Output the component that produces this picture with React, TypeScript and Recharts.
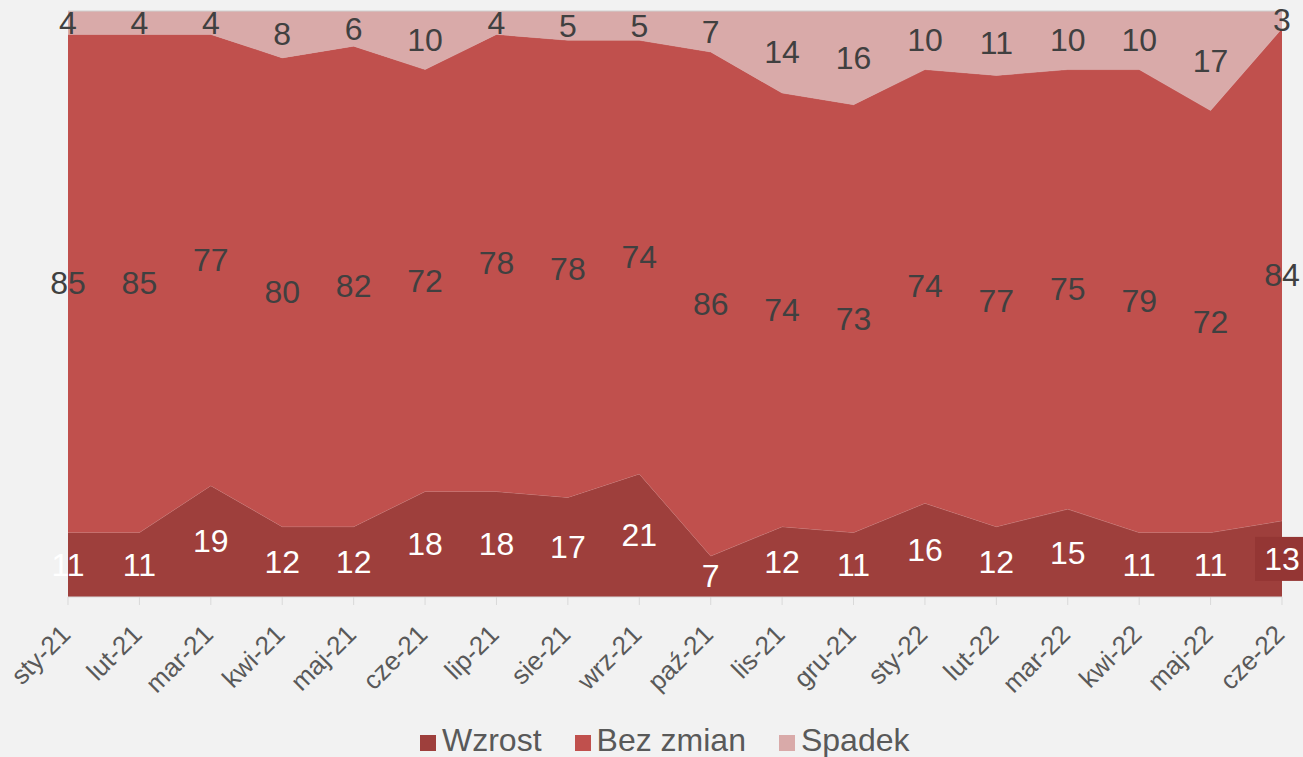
import { ComposedChart, Area, Line, XAxis, YAxis } from "recharts";

const months = [
  "sty-21", "lut-21", "mar-21", "kwi-21", "maj-21", "cze-21", "lip-21", "sie-21", "wrz-21",
  "paź-21", "lis-21", "gru-21", "sty-22", "lut-22", "mar-22", "kwi-22", "maj-22", "cze-22",
];
const wzrost = [11, 11, 19, 12, 12, 18, 18, 17, 21, 7, 12, 11, 16, 12, 15, 11, 11, 13];
const bezZmian = [85, 85, 77, 80, 82, 72, 78, 78, 74, 86, 74, 73, 74, 77, 75, 79, 72, 84];
const spadek = [4, 4, 4, 8, 6, 10, 4, 5, 5, 7, 14, 16, 10, 11, 10, 10, 17, 3];

const series = [
  { key: "wzrost", name: "Wzrost", color: "#9e3f3c" },
  { key: "bezZmian", name: "Bez zmian", color: "#c0504d" },
  { key: "spadek", name: "Spadek", color: "#d9aaa9" },
];

const data = months.map((m, i) => ({
  month: m,
  wzrost: wzrost[i],
  bezZmian: bezZmian[i],
  spadek: spadek[i],
  // middle of each band, used only to place the value labels
  midW: wzrost[i] / 2,
  midB: wzrost[i] + bezZmian[i] / 2,
  midS: wzrost[i] + bezZmian[i] + spadek[i] / 2,
}));

const FONT = '"Liberation Sans", Arial, sans-serif';

const makeLabel = (values: number[], color: string, boxLast?: string) => (props: any) => {
  const { x, y, index } = props;
  const last = boxLast && index === values.length - 1;
  return (
    <g key={`lbl-${index}`}>
      {last && <rect x={x - 27} y={y - 22} width={54} height={44} fill={boxLast} />}
      <text
        x={x}
        y={y}
        textAnchor="middle"
        dominantBaseline="central"
        fontSize={32}
        fontFamily={FONT}
        fill={color}
      >
        {values[index]}
      </text>
    </g>
  );
};

const MonthTick = ({ x, payload }: any) => (
  <g transform={`translate(${x + 4},636) rotate(-45)`}>
    <text x={0} y={0} textAnchor="end" fontSize={26} fontFamily={FONT} fill="#595959">
      {payload.value}
    </text>
  </g>
);

export default function App() {
  return (
    <div style={{ position: "absolute", left: 0, top: 0, width: 1303, height: 757, background: "#f2f2f2", overflow: "hidden" }}>
      <ComposedChart
        width={1303}
        height={757}
        data={data}
        margin={{ top: 11, right: 21, left: 68, bottom: 0 }}
      >
        <XAxis
          dataKey="month"
          scale="point"
          interval={0}
          height={160}
          axisLine={{ stroke: "#d9d9d9" }}
          tickLine={{ stroke: "#d9d9d9" }}
          tickSize={8}
          tick={<MonthTick />}
        />
        <YAxis hide domain={[0, 100]} />
        {series.map((s) => (
          <Area
            key={s.key}
            type="linear"
            dataKey={s.key}
            name={s.name}
            stackId="1"
            fill={s.color}
            fillOpacity={1}
            stroke={s.key === "spadek" ? "#d0d0d0" : "#cf8a88"}
            strokeWidth={s.key === "spadek" ? 1 : 0.6}
            isAnimationActive={false}
          />
        ))}
        <Line dataKey="midW" stroke="none" dot={false} activeDot={false} legendType="none" isAnimationActive={false}
          label={makeLabel(wzrost, "#ffffff", "#943634")} />
        <Line dataKey="midB" stroke="none" dot={false} activeDot={false} legendType="none" isAnimationActive={false}
          label={makeLabel(bezZmian, "#404040")} />
        <Line dataKey="midS" stroke="none" dot={false} activeDot={false} legendType="none" isAnimationActive={false}
          label={makeLabel(spadek, "#404040")} />
      </ComposedChart>
      <div
        style={{
          position: "absolute",
          left: 420,
          top: 725,
          display: "flex",
          alignItems: "center",
          fontFamily: FONT,
          fontSize: 32,
          lineHeight: "30px",
          color: "#595959",
          whiteSpace: "nowrap",
        }}
      >
        {series.map((s) => (
          <div key={s.key} style={{ display: "flex", alignItems: "center", marginRight: 33 }}>
            <span style={{ width: 16, height: 16, background: s.color, marginRight: 6, marginTop: 6 }} />
            <span>{s.name}</span>
          </div>
        ))}
      </div>
    </div>
  );
}
